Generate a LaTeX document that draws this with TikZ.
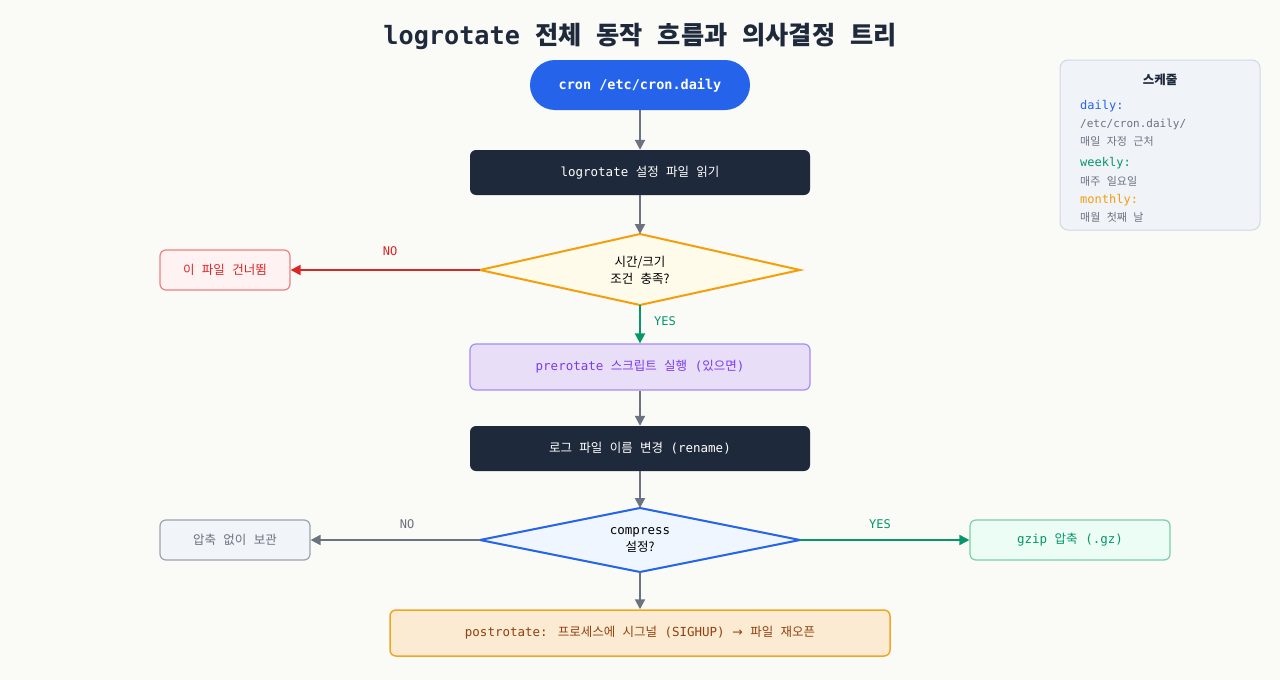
\documentclass[tikz,border=0pt]{standalone}
\usepackage{fontspec}
\setmainfont{DejaVu Sans Mono}
\newfontfamily\krfont[WordSpace=2.6]{Noto Sans CJK KR}
\newcommand\K[1]{{\krfont #1}}
\usetikzlibrary{arrows.meta}
\definecolor{bgc}{HTML}{FAFAF7}
\definecolor{darkc}{HTML}{1E293B}
\definecolor{bluec}{HTML}{2563EB}
\definecolor{arrowgray}{HTML}{6B7280}
\definecolor{ylwfill}{HTML}{FFFBEB}
\definecolor{ambc}{HTML}{F59E0B}
\definecolor{redfill}{HTML}{FEF2F2}
\definecolor{redstroke}{HTML}{F08080}
\definecolor{redc}{HTML}{DC2626}
\definecolor{greenc}{HTML}{059669}
\definecolor{purfill}{HTML}{E8DEF7}
\definecolor{purstroke}{HTML}{A78BFA}
\definecolor{purtext}{HTML}{7C3AED}
\definecolor{bluefill}{HTML}{EFF6FF}
\definecolor{grayfill}{HTML}{F1F4F8}
\definecolor{graystroke}{HTML}{9CA3AF}
\definecolor{grayt}{HTML}{6B7280}
\definecolor{grnfill}{HTML}{ECFDF5}
\definecolor{grnstroke}{HTML}{7ACFA8}
\definecolor{orfill}{HTML}{FBEBD2}
\definecolor{orstroke}{HTML}{F5A524}
\definecolor{ortext}{HTML}{92400E}
\definecolor{legfill}{HTML}{F0F4F9}
\definecolor{legstroke}{HTML}{CFD8E3}
\definecolor{legtext}{HTML}{6B7280}
\tikzset{
  box/.style={rectangle, rounded corners=6pt, inner sep=0pt, font=\fontsize{12.5}{15}\selectfont, align=center},
  darkbox/.style={box, fill=darkc, text=white, minimum width=340pt, minimum height=45pt},
  diatext/.style={inner sep=0pt, font=\fontsize{12.5}{17}\selectfont, align=center},
  dialine/.style={line width=2pt, line join=miter},
  arr/.style={-{Triangle[length=10pt,width=10pt]}, line width=2pt, arrowgray},
  lbl/.style={font=\fontsize{12}{14}\selectfont},
  legk/.style={anchor=west, inner sep=0pt, font=\fontsize{12}{14}\selectfont},
  legv/.style={anchor=west, inner sep=0pt, font=\fontsize{11}{13}\selectfont, text=legtext},
}
\begin{document}
\begin{tikzpicture}[x=1pt,y=-1pt]
\useasboundingbox[fill=bgc] (0,0) rectangle (1280,680);
% title
\node[font=\fontsize{25.2}{30}\selectfont\bfseries, text=darkc] (title) at (640,36) {logrotate \K{전체 동작 흐름과 의사결정 트리}};
% main flow
\node[rectangle, rounded corners=25pt, fill=bluec, text=white, minimum width=220pt, minimum height=50pt, inner sep=0pt, font=\fontsize{13.5}{16}\selectfont\bfseries] (cron) at (640,85) {cron /etc/cron.daily};
\node[darkbox] (read) at (640,172.5) {logrotate \K{설정 파일 읽기}};
% diamond 1
\coordinate (d1l) at (480,270);
\coordinate (d1r) at (800,270);
\coordinate (d1t) at (640,234);
\coordinate (d1b) at (640,305);
\draw[dialine, draw=ambc, fill=ylwfill] (d1l) -- (d1t) -- (d1r) -- (d1b) -- cycle;
\node[diatext] (d1) at (640,270) {\K{시간/크기}\\\K{조건 충족?}};
\node[box, fill=redfill, draw=redstroke, line width=1.2pt, text=redc, minimum width=130pt, minimum height=40pt] (skip) at (225,270) {\K{이 파일 건너뜀}};
\node[box, fill=purfill, draw=purstroke, line width=1.2pt, text=purtext, minimum width=340pt, minimum height=46pt] (pre) at (640,367) {prerotate \K{스크립트 실행} (\K{있으면})};
\node[darkbox] (ren) at (640,448.5) {\K{로그 파일 이름 변경} (rename)};
% diamond 2
\coordinate (d2l) at (480,540);
\coordinate (d2r) at (800,540);
\coordinate (d2t) at (640,508);
\coordinate (d2b) at (640,572);
\draw[dialine, draw=bluec, fill=bluefill] (d2l) -- (d2t) -- (d2r) -- (d2b) -- cycle;
\node[diatext] (d2) at (640,540) {compress\\\K{설정?}};
\node[box, fill=grayfill, draw=graystroke, line width=1.2pt, text=grayt, minimum width=150pt, minimum height=40pt] (keep) at (235,540) {\K{압축 없이 보관}};
\node[box, fill=grnfill, draw=grnstroke, line width=1.2pt, text=greenc, minimum width=200pt, minimum height=40pt] (gzip) at (1070,540) {gzip \K{압축} (.gz)};
\node[box, fill=orfill, draw=orstroke, line width=1.5pt, text=ortext, minimum width=500pt, minimum height=46pt] (post) at (640,633) {postrotate: \K{프로세스에 시그널} (SIGHUP) {\fontspec{DejaVu Sans}→} \K{파일 재오픈}};
% connectors
\draw[arr] (cron) -- (read);
\draw[arr] (read) -- (d1t);
\draw[arr, redc] (d1l) -- (skip.east);
\draw[arr, greenc] (d1b) -- (pre.north);
\draw[arr] (pre) -- (ren);
\draw[arr] (ren) -- (d2t);
\draw[arr] (d2l) -- (keep.east);
\draw[arr, greenc] (d2r) -- (gzip.west);
\draw[arr] (d2b) -- (post.north);
% labels
\node[lbl, text=redc] (no1) at (390,251) {NO};
\node[lbl, text=greenc] (yes1) at (665,321) {YES};
\node[lbl, text=grayt] (no2) at (407,524) {NO};
\node[lbl, text=greenc] (yes2) at (880,524) {YES};
% legend
\node[rectangle, rounded corners=8pt, fill=legfill, draw=legstroke, line width=1pt, minimum width=200pt, minimum height=170pt, inner sep=0pt] (leg) at (1160,145) {};
\node[font=\fontsize{12.5}{15}\selectfont\bfseries, text=darkc] (legt) at (1160,80) {\K{스케줄}};
\node[legk, text=bluec] (k1) at (1080,106) {daily:};
\node[legv] (v1a) at (1080,124) {/etc/cron.daily/};
\node[legv] (v1b) at (1080,141.5) {\K{매일 자정 근처}};
\node[legk, text=greenc] (k2) at (1080,163) {weekly:};
\node[legv] (v2) at (1080,181.5) {\K{매주 일요일}};
\node[legk, text=ambc] (k3) at (1080,200) {monthly:};
\node[legv] (v3) at (1080,217.5) {\K{매월 첫째 날}};
\end{tikzpicture}
\end{document}
